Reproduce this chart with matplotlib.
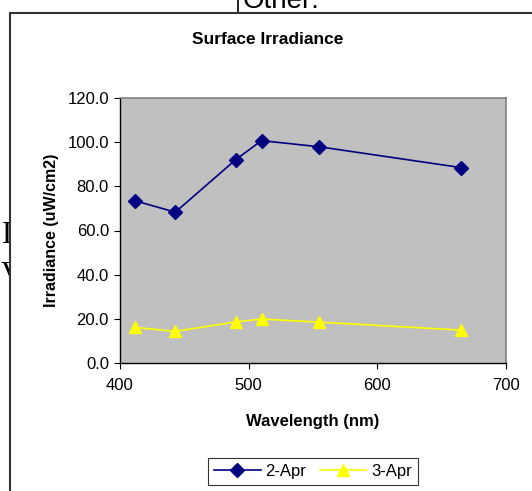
import matplotlib
matplotlib.use('Agg')
import matplotlib.pyplot as plt
from matplotlib.patches import Rectangle
from matplotlib.lines import Line2D

plt.rcParams['font.family'] = ['Liberation Sans', 'DejaVu Sans']

# data
wavelength = [412, 443, 490, 510, 555, 665]
apr2 = [73.4, 68.3, 92.1, 100.7, 97.9, 88.5]
apr3 = [16.1, 14.3, 18.6, 19.9, 18.5, 14.9]
series_names = ['2-Apr', '3-Apr']
x_ticks = [400, 500, 600, 700]
y_ticks = [0, 20, 40, 60, 80, 100, 120]

W, H = 532, 491
fig = plt.figure(figsize=(W / 100, H / 100), dpi=100)
fig.patch.set_facecolor('white')

def fx(px):
    return px / W

def fy(py):
    return 1 - py / H

# bits of the page behind the chart object
fig.text(fx(2), fy(243), 'I', family='Liberation Serif', fontsize=22, va='baseline', ha='left', zorder=0)
fig.text(fx(1), fy(283), 'V', family='Liberation Serif', fontsize=22, va='baseline', ha='left', zorder=0)
fig.text(fx(243), fy(8), 'Other:', fontsize=20, va='baseline', ha='left', zorder=0)
fig.add_artist(Line2D([fx(238), fx(238)], [fy(0), fy(13)], color='black', lw=1.2, zorder=1))

# chart object (white box, only left and top edges visible)
fig.add_artist(Rectangle((fx(10), -0.05), 1.1, fy(13) + 0.05, facecolor='white',
                         edgecolor='#333333', lw=1.5, zorder=2))

ax = fig.add_axes([fx(120), fy(363), fx(506) - fx(120), fy(98) - fy(363)], zorder=3)
ax.set_facecolor('#C0C0C0')

ax.plot(wavelength, apr2, color='#000080', lw=1.2, marker='D', markersize=7,
        label=series_names[0], clip_on=False)
ax.plot(wavelength, apr3, color='#FFFF00', lw=1.2, marker='^', markersize=8.5,
        label=series_names[1], clip_on=False)

ax.set_xlim(400, 700)
ax.set_ylim(0, 120)
ax.set_xticks(x_ticks)
ax.set_yticks(y_ticks)
ax.set_yticklabels(['%.1f' % v for v in y_ticks])
ax.tick_params(direction='out', length=4, width=0.8, labelsize=12)
ax.tick_params(axis='x', pad=7)
ax.tick_params(axis='y', pad=4)

for side in ['top', 'right']:
    ax.spines[side].set_color('#808080')
    ax.spines[side].set_linewidth(1.2)
for side in ['left', 'bottom']:
    ax.spines[side].set_color('black')
    ax.spines[side].set_linewidth(1)

ax.set_xlabel('Wavelength (nm)', fontsize=12, fontweight='bold', labelpad=15)
ax.set_ylabel('Irradiance (uW/cm2)', fontsize=11.5, fontweight='bold', labelpad=6)

fig.text(fx(268), fy(39), 'Surface Irradiance', fontsize=12.5, fontweight='bold',
         ha='center', va='center', zorder=4)

leg = fig.legend(loc='upper left', bbox_to_anchor=(fx(208), fy(458)), ncol=2,
                 fontsize=12, frameon=True, fancybox=False, handlelength=2.8,
                 columnspacing=0.8, handletextpad=0.3, borderpad=0.35,
                 borderaxespad=0)
leg.get_frame().set_edgecolor('black')
leg.get_frame().set_linewidth(0.8)
leg.set_zorder(5)

fig.savefig('out.png', dpi=100)
